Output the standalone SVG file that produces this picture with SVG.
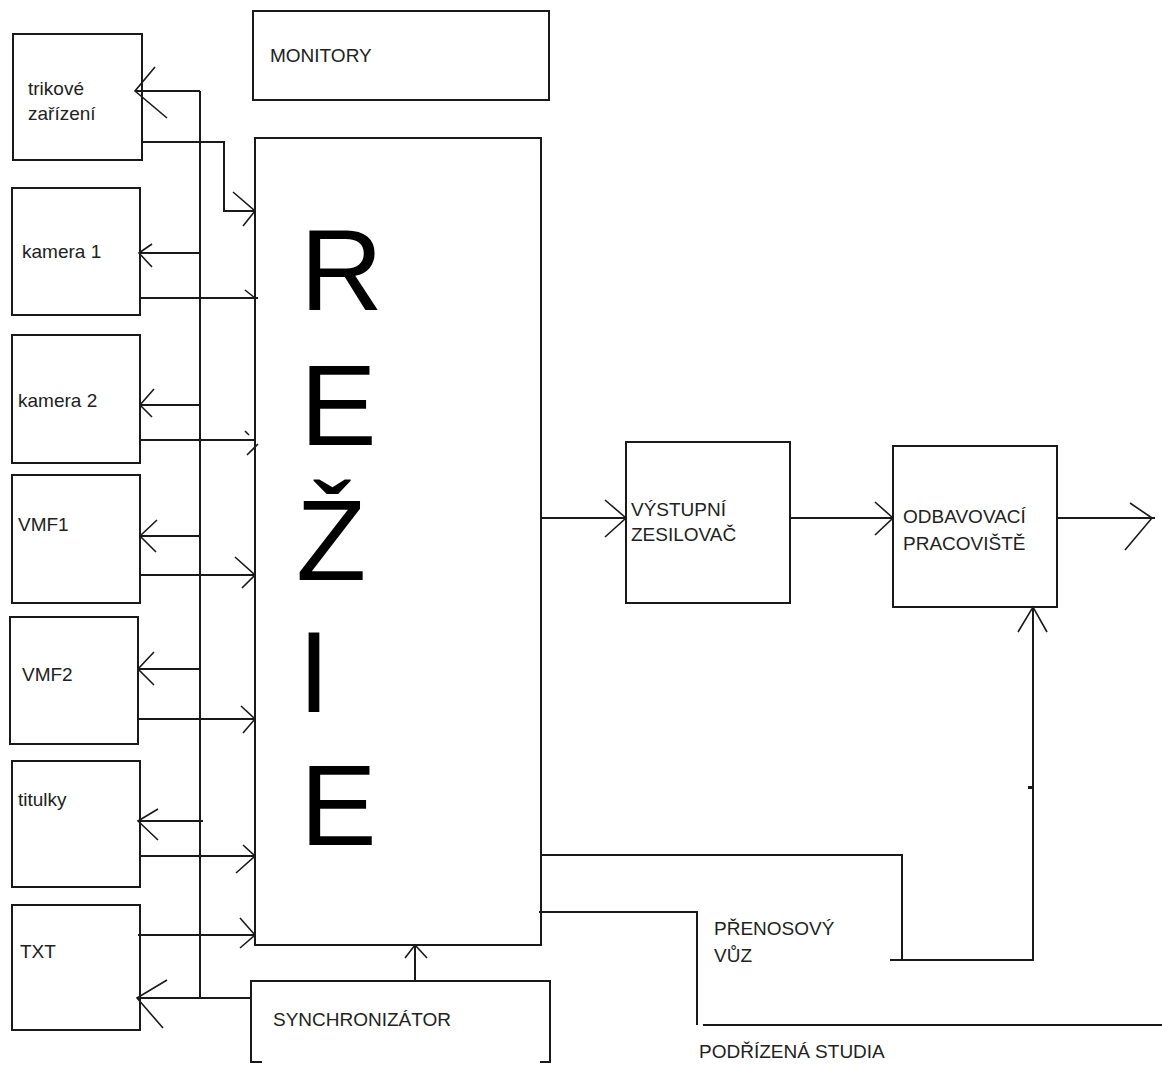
<svg xmlns="http://www.w3.org/2000/svg" width="1162" height="1066" viewBox="0 0 1162 1066">
<style>
.box{fill:none;stroke:#1a1a1a;stroke-width:2}
.ln{fill:none;stroke:#1a1a1a;stroke-width:2}
.ah{fill:none;stroke:#1a1a1a;stroke-width:1.6}
.t{font-family:"Liberation Sans",Arial,sans-serif;font-size:19px;fill:#222}
.big{font-family:"Liberation Sans",Arial,sans-serif;font-size:115px;fill:#000}
</style>
<rect width="1162" height="1066" fill="#fff"/>
<g id="connectors">
<path class="ln" d="M200 91 V998"/>
<path class="ln" d="M200 91 H135"/><path class="ah" d="M155 67 L135 91 L167 118"/>
<path class="ln" d="M142 142 H224 V211 H255"/><path class="ah" d="M233 192 L255 211 L243 226"/>
<path class="ln" d="M200 253 H139"/><path class="ah" d="M152 244 L139 253 L152 267"/>
<path class="ln" d="M140 298 H258"/><path class="ah" d="M245 290 L255 298"/>
<path class="ln" d="M200 405 H140"/><path class="ah" d="M154 389 L140 405 L152 417"/>
<path class="ln" d="M140 440 H255"/><path class="ah" d="M245 431 L249 435 M247 455 L258 444"/>
<path class="ln" d="M200 536 H140"/><path class="ah" d="M157 520 L140 536 L156 552"/>
<path class="ln" d="M140 575 H255"/><path class="ah" d="M235 557 L255 575 L242 588"/>
<path class="ln" d="M200 669 H138"/><path class="ah" d="M154 652 L138 669 L154 685"/>
<path class="ln" d="M138 719 H255"/><path class="ah" d="M241 706 L255 719 L243 733"/>
<path class="ln" d="M203 821 H138"/><path class="ah" d="M158 809 L138 821 L158 840"/>
<path class="ln" d="M140 856 H255"/><path class="ah" d="M243 845 L255 856 L236 873"/>
<path class="ln" d="M138 935 H255"/><path class="ah" d="M240 918 L255 935 L240 948"/>
<path class="ln" d="M251 998 H137"/><path class="ah" d="M167 980 L137 998 L163 1028"/>
<path class="ln" d="M415 981 V945"/><path class="ah" d="M405 958 L415 945 L427 958"/>
<path class="ln" d="M541 518 H626"/><path class="ah" d="M605 500 L626 518 L605 537"/>
<path class="ln" d="M790 518 H893"/><path class="ah" d="M875 502 L893 518 L875 535"/>
<path class="ln" d="M1057 518 H1155"/><path class="ah" d="M1130 503 L1152 518 L1125 550"/>
<path class="ln" d="M541 855 H902 V960 M890 960 H1033 V607"/><path class="ah" d="M1018 632 L1033 607 L1047 632"/>
<rect x="1028" y="786" width="4" height="3" fill="#1a1a1a"/>
<path class="ln" d="M539 912 H697 V1025 M703 1025 H1162"/>
</g>
<g id="trikove"><rect class="box" x="13" y="34" width="129" height="126"/><text class="t" x="28" y="95">trikové</text><text class="t" x="28" y="120">zařízení</text></g>
<g id="kamera1"><rect class="box" x="12" y="188" width="128" height="127"/><text class="t" x="22" y="258">kamera 1</text></g>
<g id="kamera2"><rect class="box" x="12" y="335" width="128" height="128"/><text class="t" x="18" y="407">kamera 2</text></g>
<g id="vmf1"><rect class="box" x="12" y="475" width="128" height="128"/><text class="t" x="18" y="531">VMF1</text></g>
<g id="vmf2"><rect class="box" x="10" y="617" width="128" height="127"/><text class="t" x="22" y="681">VMF2</text></g>
<g id="titulky"><rect class="box" x="12" y="761" width="128" height="126"/><text class="t" x="18" y="806">titulky</text></g>
<g id="txt"><rect class="box" x="12" y="905" width="128" height="125"/><text class="t" x="20" y="958">TXT</text></g>
<g id="monitory"><rect class="box" x="253" y="11" width="296" height="89"/><text class="t" x="270" y="62">MONITORY</text></g>
<g id="rezie"><rect class="box" x="255" y="138" width="286" height="807"/>
<text class="big" x="300" y="310">R</text><text class="big" x="300" y="445">E</text><text class="big" x="296" y="580">Ž</text><text class="big" x="298" y="712">I</text><text class="big" x="300" y="845">E</text></g>
<g id="synchronizator"><path class="box" d="M262 1062 H251 V981 H550 V1062 H540"/><text class="t" x="273" y="1026">SYNCHRONIZÁTOR</text></g>
<g id="vystupni"><rect class="box" x="626" y="442" width="164" height="161"/><text class="t" x="631" y="516">VÝSTUPNÍ</text><text class="t" x="631" y="541">ZESILOVAČ</text></g>
<g id="odbavovaci"><rect class="box" x="893" y="446" width="164" height="161"/><text class="t" x="903" y="523">ODBAVOVACÍ</text><text class="t" x="903" y="550">PRACOVIŠTĚ</text></g>
<g id="prenosovy"><text class="t" x="714" y="935">PŘENOSOVÝ</text><text class="t" x="714" y="962">VŮZ</text></g>
<g id="podrizena"><text class="t" x="699" y="1058">PODŘÍZENÁ STUDIA</text></g>
</svg>
